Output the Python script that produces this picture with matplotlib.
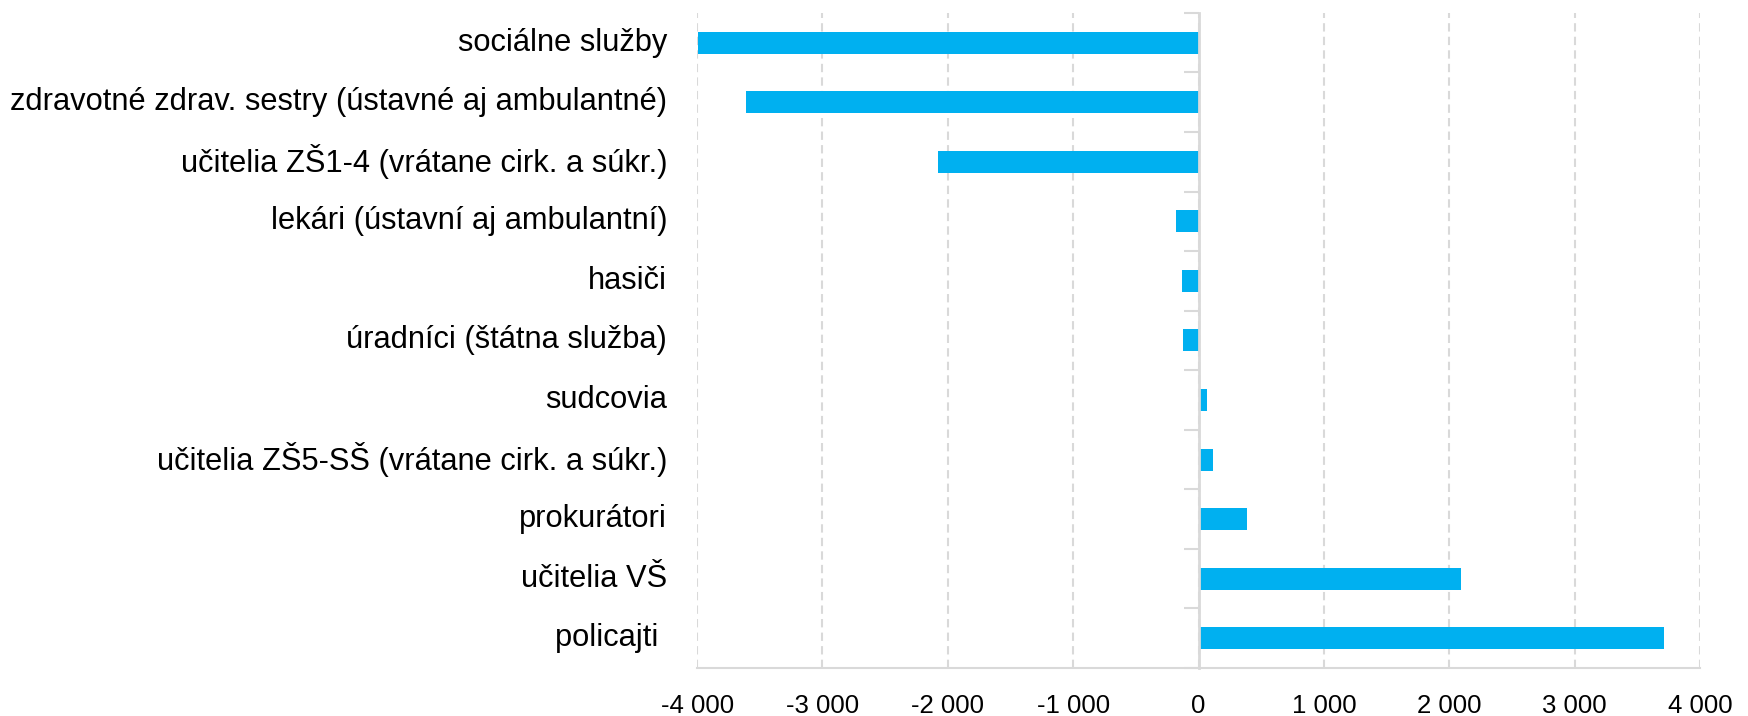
import matplotlib
matplotlib.use("Agg")
import matplotlib.pyplot as plt
from matplotlib.ticker import FuncFormatter, FixedLocator
import matplotlib.transforms as mtransforms

plt.rcParams['font.family'] = ['Liberation Sans', 'DejaVu Sans']

# data (top -> bottom)
categories = [
    "sociálne služby",
    "zdravotné zdrav. sestry (ústavné aj ambulantné)",
    "učitelia ZŠ1-4 (vrátane cirk. a súkr.)",
    "lekári (ústavní aj ambulantní)",
    "hasiči",
    "úradníci (štátna služba)",
    "sudcovia",
    "učitelia ZŠ5-SŠ (vrátane cirk. a súkr.)",
    "prokurátori",
    "učitelia VŠ",
    "policajti ",
]
values = [-3995, -3610, -2080, -180, -133, -127, 70, 115, 390, 2097, 3716]
xticks = [-4000, -3000, -2000, -1000, 0, 1000, 2000, 3000, 4000]

bar_color = "#00B0F0"
grid_color = "#d9d9d9"

fig = plt.figure(figsize=(17.48, 7.16), dpi=100)
ax = fig.add_axes([0.3988, 0.067, 0.5737, 0.915])

y = list(range(len(categories)))
ax.barh(y, values, height=0.37, color=bar_color, zorder=3)

ax.set_xlim(-4000, 4000)
ax.set_ylim(len(categories) - 0.5, -0.5)

# grid
ax.set_xticks(xticks)
ax.xaxis.set_major_formatter(FuncFormatter(lambda v, p: f"{v:,.0f}".replace(",", " ")))
ax.grid(axis="x", color=grid_color, linestyle=(0, (4, 2.5)), linewidth=1.5, zorder=0)
ax.tick_params(axis="x", length=0, labelsize=18.5, pad=19, colors="black")

# spines
for s in ["top", "right"]:
    ax.spines[s].set_visible(False)
ax.spines["bottom"].set_color(grid_color)
ax.spines["bottom"].set_linewidth(1.5)
ax.spines["left"].set_position(("data", 0))
ax.spines["left"].set_color(grid_color)
ax.spines["left"].set_linewidth(2)
ax.spines["left"].set_zorder(4)

# category boundary ticks on the zero axis
ax.yaxis.set_major_locator(FixedLocator([i - 0.5 for i in range(len(categories) + 1)]))
ax.yaxis.set_major_formatter(FuncFormatter(lambda v, p: ""))
ax.tick_params(axis="y", length=11, width=1.5, color=grid_color, direction="out")

# category labels at the left of the plot area
trans = mtransforms.blended_transform_factory(ax.transAxes, ax.transData)
for i, c in enumerate(categories):
    ax.text(-0.03, i, c, transform=trans, ha="right", va="center", fontsize=22.2)

fig.savefig("out.png", dpi=100)
